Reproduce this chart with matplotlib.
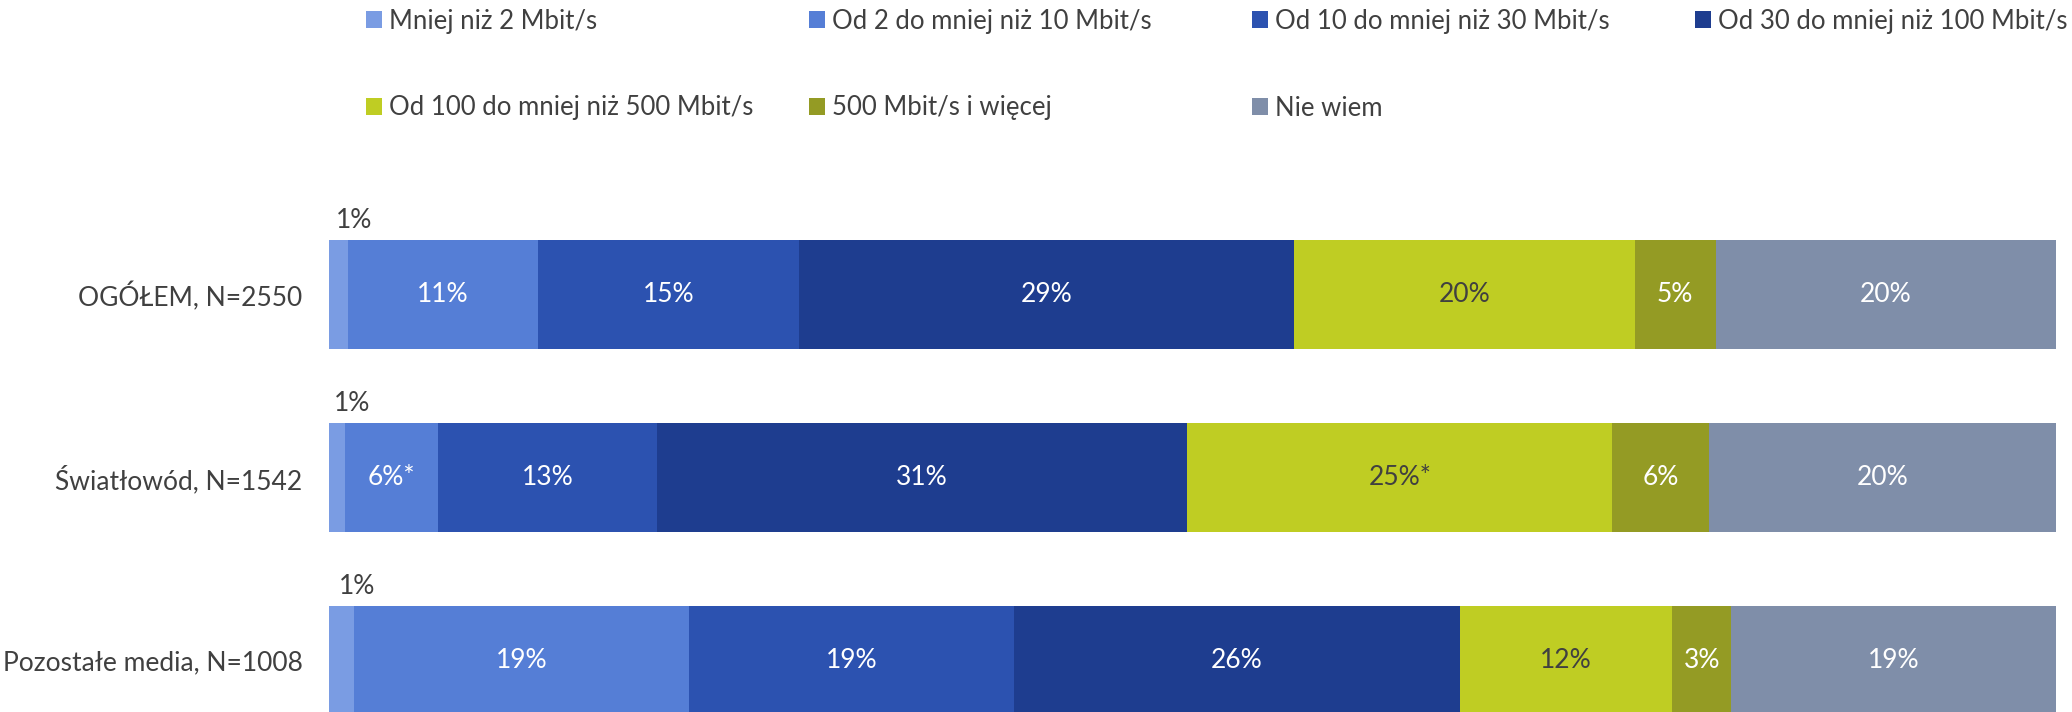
import matplotlib
matplotlib.use("Agg")
import matplotlib.pyplot as plt
from matplotlib.patches import Patch
import numpy as np

plt.rcParams['font.family'] = ['Lato', 'DejaVu Sans']

categories = ["OGÓŁEM, N=2550", "Światłowód, N=1542", "Pozostałe media, N=1008"]
series = ["Mniej niż 2 Mbit/s", "Od 2 do mniej niż 10 Mbit/s", "Od 10 do mniej niż 30 Mbit/s",
          "Od 30 do mniej niż 100 Mbit/s", "Od 100 do mniej niż 500 Mbit/s",
          "500 Mbit/s i więcej", "Nie wiem"]
# shares (%)
values = [
    [1.1, 11.0, 15.1, 28.7, 19.7, 4.7, 19.7],
    [0.9, 5.4, 12.7, 30.7, 24.6, 5.6, 20.1],
    [1.45, 19.4, 18.8, 25.8, 12.3, 3.4, 18.8],
]
labels = [
    ["1%", "11%", "15%", "29%", "20%", "5%", "20%"],
    ["1%", "6%*", "13%", "31%", "25%*", "6%", "20%"],
    ["1%", "19%", "19%", "26%", "12%", "3%", "19%"],
]
colors = ["#7A9CE3", "#557ED6", "#2C52B0", "#1E3D8F", "#BFCD23", "#949B24", "#7F8EA9"]
text_colors = ["#404040", "white", "white", "white", "#404040", "white", "white"]

W, H = 2072, 712
fig = plt.figure(figsize=(W / 100, H / 100), dpi=100)
ax_top_px, ax_bot_px = 150, 712
ax = fig.add_axes([329 / W, 1 - ax_bot_px / H, (2056 - 329) / W, (ax_bot_px - ax_top_px) / H])

vals = np.array(values, dtype=float)
pct = vals / vals.sum(axis=1, keepdims=True) * 100
y = np.arange(len(categories))
bar_h = 109 / 183
left = np.zeros(len(categories))
for j, s in enumerate(series):
    ax.barh(y, pct[:, j], left=left, height=bar_h, color=colors[j], edgecolor='none', label=s)
    for i in range(len(categories)):
        if j == 0:
            ax.text(left[i] + pct[i, j] / 2 + 0.9, y[i] - bar_h / 2 - 0.04, labels[i][j],
                    ha='center', va='bottom', fontsize=19, color='#404040')
        else:
            ax.text(left[i] + pct[i, j] / 2, y[i], labels[i][j], ha='center', va='center',
                    fontsize=19, color=text_colors[j])
    left += pct[:, j]

# px = 294.5 + 183 * index
ax.set_ylim((ax_bot_px - 294.5) / 183, (ax_top_px - 294.5) / 183)
ax.set_xlim(0, 100)
ax.set_yticks(y)
ax.set_yticklabels(categories, fontsize=19, color='#404040')
ax.tick_params(axis='y', length=0, pad=19)
ax.set_xticks([])
for sp in ax.spines.values():
    sp.set_visible(False)

# legend entries on a fixed grid
col_x = [366, 809, 1252, 1695]
row_y = [21, 108]
for k, s in enumerate(series):
    r, c = divmod(k, 4)
    leg = fig.legend(handles=[Patch(facecolor=colors[k], edgecolor='none')], labels=[s],
                     loc='center left', bbox_to_anchor=(col_x[c] / W, 1 - row_y[r] / H),
                     frameon=False, fontsize=18.5, handlelength=0.62, handleheight=0.62,
                     handletextpad=0.28, borderpad=0, borderaxespad=0)
    for t in leg.get_texts():
        t.set_color('#404040')

fig.savefig("out.png", dpi=100)
